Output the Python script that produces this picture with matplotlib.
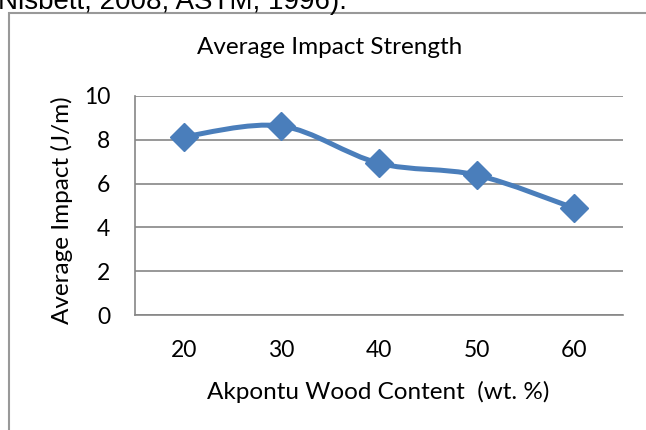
import matplotlib.pyplot as plt
from matplotlib.path import Path
from matplotlib.patches import PathPatch, Rectangle

plt.rcParams['font.family'] = ['Lato', 'DejaVu Sans']

categories = ['20', '30', '40', '50', '60']
impact = [8.14, 8.63, 6.93, 6.39, 4.88]

blue = '#4A7EBB'
grey = '#868686'

fig = plt.figure(figsize=(6.46, 4.30), dpi=100)
ax = fig.add_axes([135 / 646, 1 - 315 / 430, 488 / 646, 219 / 430])

x = list(range(len(categories)))


# smoothed line like excel, bezier through the data points
def smooth_path(xs, ys, t=1 / 6):
    verts = [(xs[0], ys[0])]
    codes = [Path.MOVETO]
    n = len(xs)
    for i in range(n - 1):
        x0, y0 = xs[max(i - 1, 0)], ys[max(i - 1, 0)]
        x1, y1 = xs[i], ys[i]
        x2, y2 = xs[i + 1], ys[i + 1]
        x3, y3 = xs[min(i + 2, n - 1)], ys[min(i + 2, n - 1)]
        c1 = (x1 + (x2 - x0) * t, y1 + (y2 - y0) * t)
        c2 = (x2 - (x3 - x1) * t, y2 - (y3 - y1) * t)
        verts += [c1, c2, (x2, y2)]
        codes += [Path.CURVE4] * 3
    return Path(verts, codes)


ax.add_patch(PathPatch(smooth_path(x, impact), fill=False, edgecolor=blue,
                       lw=3.6, capstyle='round', zorder=3))
ax.plot(x, impact, linestyle='none', marker='D', markersize=14,
        color=blue, zorder=4, clip_on=False)

ax.set_xlim(-0.5, len(categories) - 0.5)
ax.set_ylim(0, 10)
ax.set_yticks(range(0, 11, 2))
ax.set_xticks(x)
ax.set_xticklabels(categories)
ax.grid(axis='y', color=grey, lw=1.2)
ax.set_axisbelow(True)
for s in ['top', 'right']:
    ax.spines[s].set_visible(False)
for s in ['left', 'bottom']:
    ax.spines[s].set_color(grey)
    ax.spines[s].set_linewidth(1.2)
ax.tick_params(length=0, labelsize=16.5)
ax.tick_params(axis='x', pad=18)
ax.tick_params(axis='y', pad=18)

fig.text(378 / 646, 1 - 392 / 430, 'Akpontu Wood Content  (wt. %)',
         ha='center', va='center', fontsize=17.5)
fig.text(62 / 646, 1 - 210 / 430, 'Average Impact (J/m)', rotation=90,
         ha='center', va='center', fontsize=17.5)
fig.text(330 / 646, 1 - 47 / 430, 'Average Impact Strength',
         ha='center', va='center', fontsize=17.5)

# chart frame and the clipped line of text above it
fig.patches.append(Rectangle((8.5 / 646, -0.1), 1, 1 - 13 / 430 + 0.1,
                             transform=fig.transFigure, fill=False,
                             edgecolor='#999999', lw=1.5))
fig.text(-2 / 646, 1 - 9 / 430, 'Nisbett, 2008; ASTM, 1996).',
         ha='left', va='baseline', fontsize=20, family='Liberation Sans')

fig.savefig('out.png', dpi=100)
